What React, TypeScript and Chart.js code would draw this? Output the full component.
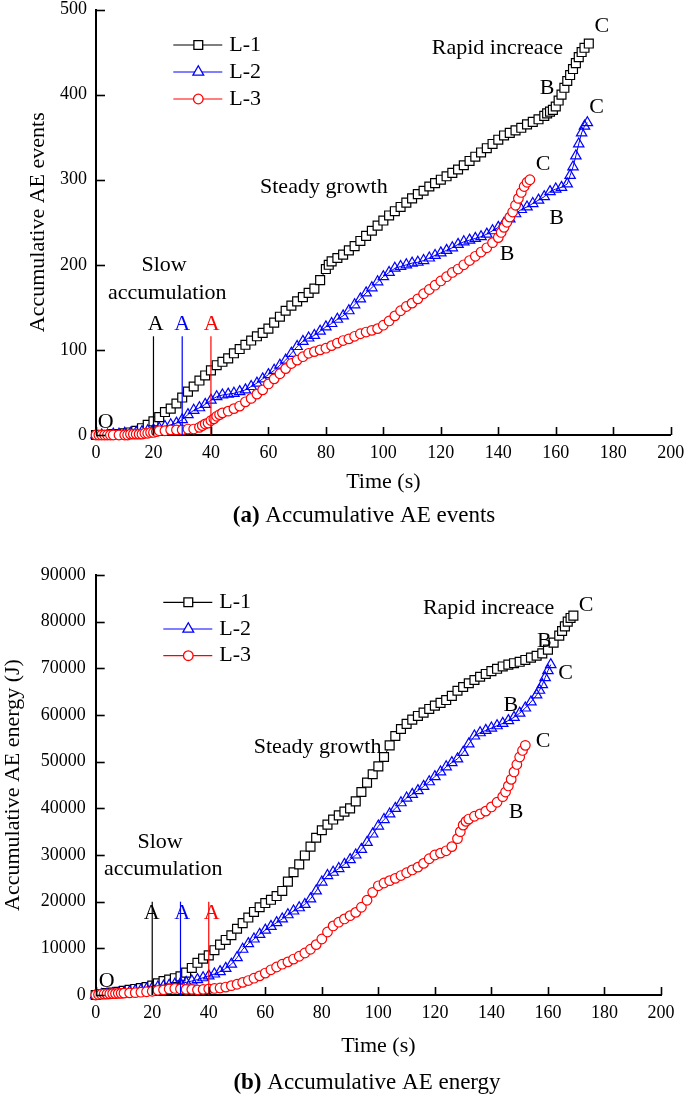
import React, { useEffect, useRef } from 'react';
import { Chart, registerables } from 'chart.js';

Chart.register(...registerables);

const FONT = "'Liberation Serif', 'Times New Roman', serif";

// ---------- axes ----------
const timeTicks = [0, 20, 40, 60, 80, 100, 120, 140, 160, 180, 200];
const eventTicks = [0, 100, 200, 300, 400, 500];
const energyTicks = [0, 10000, 20000, 30000, 40000, 50000, 60000, 70000, 80000, 90000];

const seriesNames = ['L-1', 'L-2', 'L-3'];
const seriesColors = ['#000000', '#0000ff', '#ff0000'];
const seriesMarkers = ['rect', 'triangle', 'circle'];

// ---------- (a) accumulative AE events ----------
const l1Events: [number, number][] = [
  [0, 0], [2, 0], [4, 0], [6, 1], [8, 1], [10, 2], [12, 3], [14, 5], [16, 8], [18, 12], [20, 16], [22, 21],
  [24, 27], [26, 31], [28, 37], [30, 44], [32, 51], [34, 57], [36, 64], [38, 70], [40, 76], [42, 82], [44, 86],
  [46, 90], [48, 96], [50, 101], [52, 106], [54, 111], [56, 116], [58, 120], [60, 125], [62, 132], [64, 139],
  [66, 146], [68, 152], [70, 157], [72, 162], [74, 167], [76, 172], [78, 182], [80, 195], [81, 200], [82, 204],
  [84, 208], [86, 212], [88, 217], [90, 222], [92, 228], [94, 234], [96, 240], [98, 246], [100, 252], [102, 258],
  [104, 263], [106, 268], [108, 273], [110, 278], [112, 283], [114, 287], [116, 292], [118, 296], [120, 300],
  [122, 304], [124, 308], [126, 312], [128, 317], [130, 322], [132, 327], [134, 332], [136, 337], [138, 342],
  [140, 347], [142, 352], [144, 355], [146, 358], [148, 361], [150, 365], [152, 368], [154, 371], [156, 375],
  [157, 378], [158, 380], [159, 382], [160, 386], [161, 393], [162, 400], [163, 408], [164, 416], [165, 423],
  [166, 430], [167, 437], [168, 444], [169, 450], [170, 455], [171.5, 460],
];
const l2Events: [number, number][] = [
  [0, 0], [2, 0], [4, 0], [6, 1], [8, 1], [10, 2], [12, 2], [14, 3], [16, 4], [18, 5], [20, 6], [22, 8],
  [24, 10], [26, 12], [28, 14], [30, 18], [32, 24], [34, 29], [36, 32], [38, 36], [40, 41], [42, 45], [44, 47],
  [46, 48], [48, 49], [50, 51], [52, 53], [54, 57], [56, 61], [58, 66], [60, 71], [62, 76], [64, 82], [66, 88],
  [68, 96], [70, 104], [72, 110], [74, 114], [76, 117], [78, 122], [80, 127], [82, 131], [84, 136], [86, 140],
  [88, 146], [90, 153], [92, 160], [94, 167], [96, 173], [98, 180], [100, 186], [102, 191], [104, 196],
  [106, 198], [108, 200], [110, 202], [112, 203], [114, 205], [116, 208], [118, 211], [120, 214], [122, 217],
  [124, 220], [126, 224], [128, 227], [130, 229], [132, 231], [134, 233], [136, 236], [138, 240], [140, 244],
  [142, 249], [144, 254], [146, 260], [148, 265], [150, 268], [152, 272], [154, 276], [156, 280], [158, 286],
  [160, 289], [162, 291], [164, 295], [165, 305], [166, 315], [167, 328], [168, 342], [169, 355], [170, 363],
  [171, 367],
];
const l3Events: [number, number][] = [
  [0, 0], [1, 0], [2, 0], [3, 0], [4, 0], [5, 0], [6, 0], [8, 0], [10, 0], [11, 0], [12, 1], [13, 1], [14, 1],
  [15, 1], [16, 1], [17, 2], [18, 2], [19, 3], [20, 3], [21, 4], [22, 5], [24, 5], [26, 6], [28, 6], [30, 6],
  [32, 7], [34, 7], [36, 9], [37, 11], [38, 13], [39, 14], [40, 17], [41, 19], [42, 22], [43, 24], [44, 26],
  [46, 28], [48, 31], [50, 34], [52, 39], [54, 43], [56, 48], [58, 53], [60, 60], [62, 66], [64, 72], [66, 78],
  [68, 84], [70, 88], [72, 92], [74, 96], [76, 98], [78, 100], [80, 102], [82, 105], [84, 108], [86, 111],
  [88, 113], [90, 116], [92, 119], [94, 121], [96, 123], [98, 125], [100, 129], [102, 134], [104, 140],
  [106, 146], [108, 151], [110, 155], [112, 160], [114, 166], [116, 171], [118, 176], [120, 181], [122, 186],
  [124, 191], [126, 195], [128, 200], [130, 205], [132, 210], [134, 215], [136, 220], [138, 226], [140, 232],
  [141, 238], [142, 244], [143, 250], [144, 256], [145, 262], [146, 270], [147, 278], [148, 285], [149, 292],
  [150, 297], [151, 300],
];

// ---------- (b) accumulative AE energy ----------
const l1Energy: [number, number][] = [
  [0, 0], [2, 200], [4, 400], [6, 500], [8, 700], [10, 900], [12, 1100], [14, 1300], [16, 1500], [18, 1700],
  [20, 2000], [22, 2500], [24, 3000], [26, 3300], [28, 3600], [30, 4000], [32, 4800], [34, 5800], [36, 6900],
  [38, 7800], [40, 8500], [42, 9600], [44, 10800], [46, 11800], [48, 12800], [50, 14200], [52, 15400],
  [54, 16600], [56, 17800], [58, 18800], [60, 19700], [62, 20400], [64, 21200], [66, 22300], [68, 24300],
  [70, 26300], [72, 28000], [74, 29900], [76, 31800], [78, 33700], [80, 35300], [82, 36500], [84, 37600],
  [86, 38500], [88, 39300], [90, 40000], [92, 41500], [94, 43500], [96, 45500], [98, 47300], [100, 49000],
  [102, 51000], [104, 53500], [106, 55500], [108, 57000], [110, 58100], [112, 59000], [114, 59800],
  [116, 60500], [118, 61300], [120, 62000], [122, 62600], [124, 63200], [126, 64100], [128, 65200],
  [130, 66000], [132, 66800], [134, 67500], [136, 68200], [138, 68800], [140, 69400], [142, 69900],
  [144, 70400], [146, 70800], [148, 71100], [150, 71400], [152, 71800], [154, 72300], [156, 72700],
  [158, 73200], [160, 74000], [162, 75500], [164, 77000], [165, 78000], [166, 79000], [167, 80000],
  [168, 80800], [169, 81300],
];
const l2Energy: [number, number][] = [
  [0, 0], [2, 100], [4, 200], [6, 300], [8, 400], [10, 500], [12, 700], [14, 900], [16, 1100], [18, 1300],
  [20, 1500], [22, 1700], [24, 1900], [26, 2100], [28, 2300], [30, 2500], [32, 2700], [34, 3000], [36, 3300],
  [38, 3700], [40, 4100], [42, 4500], [44, 5000], [46, 5700], [48, 6600], [50, 8000], [52, 9800], [54, 11000],
  [56, 12000], [58, 13000], [60, 13900], [62, 14700], [64, 15500], [66, 16300], [68, 17200], [70, 18000],
  [72, 18700], [74, 19400], [76, 20600], [78, 22300], [80, 24200], [82, 25600], [84, 26300], [86, 27100],
  [88, 28000], [90, 29000], [92, 30000], [94, 31200], [96, 32700], [98, 34500], [100, 36200], [102, 37600],
  [104, 38800], [106, 40000], [108, 41200], [110, 42200], [112, 43000], [114, 43800], [116, 44700],
  [118, 45700], [120, 46800], [122, 47800], [124, 48900], [126, 49800], [128, 50600], [130, 52000],
  [132, 53800], [134, 55500], [136, 56200], [138, 56700], [140, 57200], [142, 57700], [144, 58200],
  [146, 58800], [148, 59500], [150, 60400], [152, 61500], [154, 62800], [156, 64300], [157, 65300],
  [158, 66500], [159, 68000], [160, 69500], [161, 70800],
];
const l3Energy: [number, number][] = [
  [0, 0], [1, 100], [2, 150], [3, 200], [4, 200], [5, 250], [6, 300], [7, 300], [8, 350], [9, 350], [10, 400],
  [12, 450], [14, 500], [16, 600], [18, 700], [20, 800], [22, 1000], [24, 1100], [26, 1300], [28, 1400],
  [30, 1300], [32, 1200], [34, 1200], [36, 1100], [38, 1200], [40, 1300], [42, 1400], [44, 1500], [46, 1700],
  [48, 2000], [50, 2300], [52, 2700], [54, 3100], [56, 3600], [58, 4100], [60, 4700], [62, 5400], [64, 6000],
  [66, 6600], [68, 7100], [70, 7700], [72, 8300], [74, 9000], [76, 9800], [78, 10800], [80, 12000],
  [82, 13500], [84, 14800], [86, 15600], [88, 16300], [90, 17000], [92, 17700], [94, 18800], [96, 20300],
  [98, 22000], [100, 23400], [102, 24000], [104, 24500], [106, 25000], [108, 25600], [110, 26200],
  [112, 26800], [114, 27400], [116, 28200], [118, 29200], [120, 30000], [122, 30400], [124, 30900],
  [126, 31800], [128, 33500], [129, 35000], [130, 36400], [131, 37200], [132, 37700], [134, 38300],
  [136, 38800], [138, 39400], [140, 40300], [142, 41300], [144, 42500], [145, 43500], [146, 44800],
  [147, 46200], [148, 47800], [149, 49400], [150, 51000], [151, 52400], [152, 53500],
];

// ---------- annotations ----------
type Note = [string, number, number, string];
const eventNotes: Note[] = [
  ['Rapid increace', 139.7, 455, '#000'],
  ['C', 176, 480, '#000'], ['B', 157, 407, '#000'],
  ['C', 174.2, 385, '#000'], ['B', 160.3, 254.5, '#000'],
  ['C', 155.6, 318, '#000'], ['B', 143.1, 213, '#000'],
  ['Steady growth', 79.3, 290.6, '#000'],
  ['Slow', 23.7, 199, '#000'], ['accumulation', 24.8, 166.7, '#000'],
  ['A', 20.8, 130, '#000'], ['A', 30, 130, '#0000ff'], ['A', 40.3, 130, '#ff0000'],
  ['O', 3.4, 14.7, '#000'],
];
const energyNotes: Note[] = [
  ['Rapid increace', 139, 82900, '#000'],
  ['C', 173.5, 83600, '#000'], ['B', 158.7, 75900, '#000'],
  ['C', 166.2, 69000, '#000'], ['B', 146.9, 62200, '#000'],
  ['C', 158.3, 54400, '#000'], ['B', 148.7, 39100, '#000'],
  ['Steady growth', 78.5, 53200, '#000'],
  ['Slow', 22.8, 32700, '#000'], ['accumulation', 23.9, 26960, '#000'],
  ['A', 19.8, 17460, '#000'], ['A', 30.6, 17460, '#0000ff'], ['A', 41, 17460, '#ff0000'],
  ['O', 3.9, 2850, '#000'],
];
// turning-point markers (time of point A for each specimen)
const pointATimes = [20, 30, 40];
const eventMarkerTop = 116;
const energyMarkerTop = 20000;

function drawMarker(ctx: CanvasRenderingContext2D, style: string, x: number, y: number, color: string) {
  ctx.beginPath();
  if (style === 'rect') {
    const h = 4.4;
    ctx.rect(x - h, y - h, 2 * h, 2 * h);
  } else if (style === 'triangle') {
    const r = 6.2;
    ctx.moveTo(x, y - r);
    ctx.lineTo(x + r * 0.866, y + r * 0.5);
    ctx.lineTo(x - r * 0.866, y + r * 0.5);
    ctx.closePath();
  } else {
    ctx.arc(x, y, 4.8, 0, Math.PI * 2);
  }
  ctx.fillStyle = '#fff';
  ctx.fill();
  ctx.strokeStyle = color;
  ctx.lineWidth = 1.3;
  ctx.stroke();
}

interface Decor {
  notes: Note[];
  legendX: number; // relative to chartArea.left
  legendY: number; // relative to chartArea.top
  legendGap: number;
  captionBold: string;
  captionRest: string;
  captionX: number;
  captionY: number;
}

function decorPlugin(d: Decor) {
  return {
    id: 'decor',
    afterDraw(chart: any) {
      const { ctx, chartArea, scales } = chart;
      const xs = scales.x;
      const ys = scales.y;
      ctx.save();
      // inward tick marks
      ctx.strokeStyle = '#000';
      ctx.lineWidth = 1.6;
      xs.ticks.forEach((t: any) => {
        const px = Math.round(xs.getPixelForValue(t.value)) + 0.5;
        ctx.beginPath();
        ctx.moveTo(px, chartArea.bottom);
        ctx.lineTo(px, chartArea.bottom - 8);
        ctx.stroke();
      });
      ys.ticks.forEach((t: any) => {
        const py = Math.round(ys.getPixelForValue(t.value)) + 0.5;
        ctx.beginPath();
        ctx.moveTo(chartArea.left, py);
        ctx.lineTo(chartArea.left + 9, py);
        ctx.stroke();
      });
      // annotations
      ctx.font = `22px ${FONT}`;
      ctx.textAlign = 'center';
      ctx.textBaseline = 'middle';
      d.notes.forEach(([text, x, y, color]) => {
        ctx.fillStyle = color;
        ctx.fillText(text, xs.getPixelForValue(x), ys.getPixelForValue(y));
      });
      // legend
      const lx = chartArea.left + d.legendX;
      seriesNames.forEach((name, i) => {
        const ly = chartArea.top + d.legendY + i * d.legendGap;
        ctx.strokeStyle = seriesColors[i];
        ctx.lineWidth = 1.2;
        ctx.beginPath();
        ctx.moveTo(lx, ly);
        ctx.lineTo(lx + 49, ly);
        ctx.stroke();
        drawMarker(ctx, seriesMarkers[i], lx + 25, ly, seriesColors[i]);
        ctx.fillStyle = '#000';
        ctx.font = `22px ${FONT}`;
        ctx.textAlign = 'left';
        ctx.textBaseline = 'middle';
        ctx.fillText(name, lx + 56, ly);
      });
      // caption
      ctx.textBaseline = 'middle';
      ctx.textAlign = 'left';
      ctx.font = `bold 23px ${FONT}`;
      const wb = ctx.measureText(d.captionBold).width;
      ctx.font = `23px ${FONT}`;
      const wr = ctx.measureText(d.captionRest).width;
      const x0 = d.captionX - (wb + wr) / 2;
      ctx.fillStyle = '#000';
      ctx.font = `bold 23px ${FONT}`;
      ctx.fillText(d.captionBold, x0, d.captionY);
      ctx.font = `23px ${FONT}`;
      ctx.fillText(d.captionRest, x0 + wb, d.captionY);
      ctx.restore();
    },
  };
}

interface Spec {
  series: [number, number][][];
  yTicks: number[];
  yTitle: string;
  yTitlePad: number;
  markerTop: number;
  yWidth: number;
  xHeight: number;
  padding: { left: number; right: number; top: number; bottom: number };
  yTickPad: number;
  decor: Decor;
}

function buildConfig(s: Spec): any {
  const datasets: any[] = s.series.map((pts, i) => ({
    label: seriesNames[i],
    data: pts.map(([x, y]) => ({ x, y })),
    borderColor: seriesColors[i],
    borderWidth: 1,
    pointStyle: seriesMarkers[i],
    pointRadius: seriesMarkers[i] === 'rect' ? 6.3 : seriesMarkers[i] === 'triangle' ? 6 : 4.8,
    pointBorderWidth: 1.2,
    pointBorderColor: seriesColors[i],
    pointBackgroundColor: seriesMarkers[i] === 'triangle' ? 'rgba(255,255,255,0)' : '#ffffff',
    tension: 0,
    clip: false,
    order: 3 - i,
  }));
  pointATimes.forEach((t, i) => {
    datasets.push({
      label: 'A' + i,
      data: [{ x: t, y: 0 }, { x: t, y: s.markerTop }],
      borderColor: seriesColors[i],
      borderWidth: 1.2,
      pointRadius: 0,
      clip: false,
      order: 0,
    });
  });
  const yMax = s.yTicks[s.yTicks.length - 1];
  return {
    type: 'line',
    data: { datasets },
    options: {
      responsive: false,
      animation: false,
      devicePixelRatio: 1,
      layout: { padding: s.padding },
      plugins: { legend: { display: false }, tooltip: { enabled: false }, title: { display: false } },
      scales: {
        x: {
          type: 'linear',
          min: timeTicks[0],
          max: timeTicks[timeTicks.length - 1],
          afterBuildTicks: (sc: any) => {
            sc.ticks = timeTicks.map((v) => ({ value: v }));
          },
          ticks: {
            color: '#000',
            font: { family: FONT, size: 18 },
            padding: 7,
            maxRotation: 0,
            autoSkip: false,
            callback: (v: any) => String(v),
          },
          grid: { display: false, drawTicks: false },
          border: { display: true, color: '#000', width: 2 },
          title: {
            display: true,
            text: 'Time (s)',
            color: '#000',
            font: { family: FONT, size: 22 },
            padding: { top: 0, bottom: 0 },
          },
          afterFit: (sc: any) => {
            sc.height = s.xHeight;
            sc.paddingLeft = 0;
            sc.paddingRight = 0;
          },
        },
        y: {
          type: 'linear',
          min: s.yTicks[0],
          max: yMax,
          afterBuildTicks: (sc: any) => {
            sc.ticks = s.yTicks.map((v) => ({ value: v }));
          },
          ticks: {
            color: '#000',
            font: { family: FONT, size: 18 },
            padding: s.yTickPad,
            autoSkip: false,
            callback: (v: any) => String(v),
          },
          grid: { display: false, drawTicks: false },
          border: { display: true, color: '#000', width: 2 },
          title: {
            display: true,
            text: s.yTitle,
            color: '#000',
            font: { family: FONT, size: 22 },
            padding: { top: s.yTitlePad, bottom: 0 },
          },
          afterFit: (sc: any) => {
            sc.width = s.yWidth;
            sc.paddingTop = 0;
            sc.paddingBottom = 0;
          },
        },
      },
    },
    plugins: [decorPlugin(s.decor)],
  };
}

const eventsSpec: Spec = {
  series: [l1Events, l2Events, l3Events],
  yTicks: eventTicks,
  yTitle: 'Accumulative AE events',
  yTitlePad: 25,
  markerTop: eventMarkerTop,
  yWidth: 96,
  xHeight: 60.2,
  padding: { left: 0, right: 14.3, top: 9.5, bottom: 44.8 },
  yTickPad: 9,
  decor: {
    notes: eventNotes,
    legendX: 77.3,
    legendY: 35.5,
    legendGap: 27,
    captionBold: '(a)',
    captionRest: ' Accumulative AE events',
    captionX: 364,
    captionY: 516,
  },
};

const energySpec: Spec = {
  series: [l1Energy, l2Energy, l3Energy],
  yTicks: energyTicks,
  yTitle: 'Accumulative AE energy (J)',
  yTitlePad: 0,
  markerTop: energyMarkerTop,
  yWidth: 95.7,
  xHeight: 64.2,
  padding: { left: 0, right: 24, top: 35, bottom: 40.8 },
  yTickPad: 10,
  decor: {
    notes: energyNotes,
    legendX: 67.6,
    legendY: 27.3,
    legendGap: 26.7,
    captionBold: '(b)',
    captionRest: ' Accumulative AE energy',
    captionX: 367,
    captionY: 543,
  },
};

function Panel({ spec, top, height }: { spec: Spec; top: number; height: number }) {
  const ref = useRef<HTMLCanvasElement>(null);
  useEffect(() => {
    const chart = new Chart(ref.current as HTMLCanvasElement, buildConfig(spec));
    return () => chart.destroy();
  }, [spec]);
  return (
    <canvas
      ref={ref}
      width={685}
      height={height}
      style={{ position: 'absolute', left: 0, top, width: 685, height, display: 'block' }}
    />
  );
}

export default function App() {
  return (
    <div style={{ position: 'absolute', left: 0, top: 0, width: 685, height: 1100, background: '#fff' }}>
      <Panel spec={eventsSpec} top={0} height={540} />
      <Panel spec={energySpec} top={540} height={560} />
    </div>
  );
}
